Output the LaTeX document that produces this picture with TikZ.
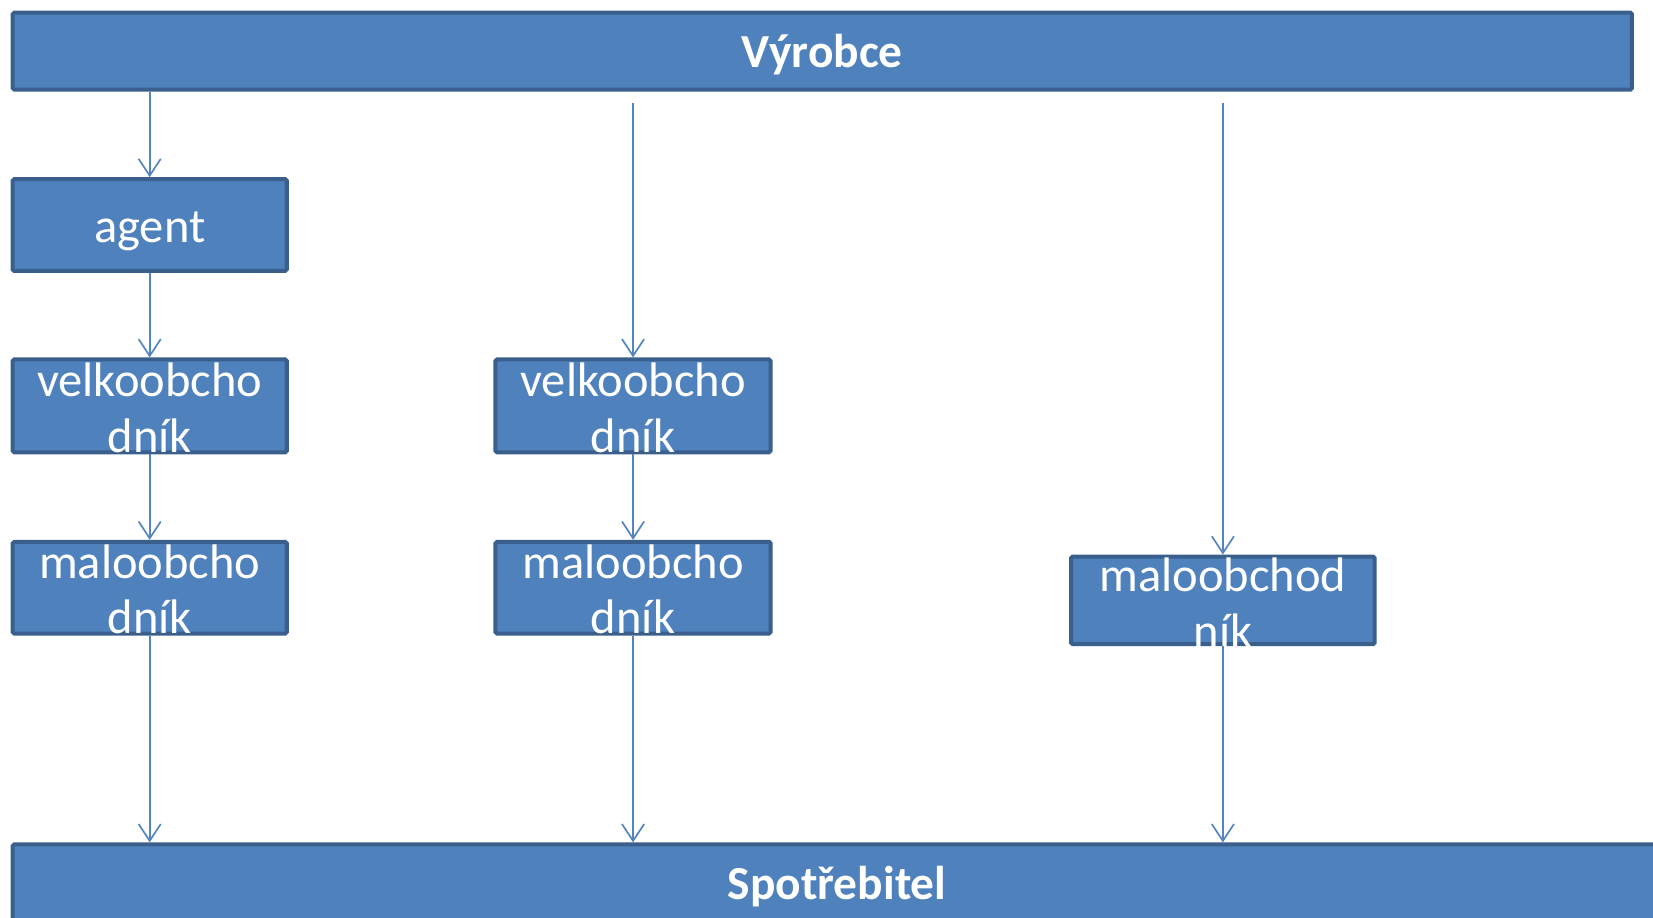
\documentclass[tikz,border=0pt]{standalone}
\usepackage{fontspec}
\setmainfont{Carlito}
\usetikzlibrary{arrows.meta}
\definecolor{boxfill}{HTML}{4F81BD}
\definecolor{boxline}{HTML}{3A5F8D}
\definecolor{arrowc}{HTML}{5585C0}
\tikzset{
  box/.style={draw=boxline, fill=boxfill, line width=3.8pt, rounded corners=1.5pt, inner sep=0pt},
  txt/.style={text=white, align=center, inner sep=0pt, font=\fontsize{46}{53}\selectfont},
  title/.style={text=white, inner sep=0pt, font=\fontsize{45}{52}\selectfont\bfseries},
  conn/.style={draw=arrowc, line width=1.6pt, -{Straight Barb[length=16pt,width=21pt,line width=1.6pt]}}
}
\begin{document}
\begin{tikzpicture}[x=1pt,y=-1pt]
\useasboundingbox (0,0) rectangle (1568,870);
\begin{scope}
\clip (0,0) rectangle (1568,870);
% top and bottom bars
\node[box, minimum width=1536, minimum height=73] (vyr) at (780,48.5) {};
\node[title] at (780,52) {Výrobce};
\node[box, minimum width=1640, minimum height=140] (spo) at (832,871) {};
\node[title] at (794,841) {Spotřebitel};
% column 1
\node[box, minimum width=260, minimum height=87] (ag) at (142,213.5) {};
\node[txt] at (142,219) {agent};
\node[box, minimum width=260, minimum height=88] (v1) at (142,385) {};
\node[txt] at (142,387) {velkoobcho\\dník};
\node[box, minimum width=260, minimum height=87] (m1) at (142,557.5) {};
\node[txt] at (142,559) {maloobcho\\dník};
% column 2
\node[box, minimum width=261, minimum height=88] (v2) at (600.5,385) {};
\node[txt] at (600.5,387) {velkoobcho\\dník};
\node[box, minimum width=261, minimum height=87] (m2) at (600.5,557.5) {};
\node[txt] at (600.5,559) {maloobcho\\dník};
% column 3
\node[box, minimum width=288, minimum height=83] (m3) at (1160,569.5) {};
\node[txt] at (1160,572) {maloobchod\\ník};
\end{scope}
% free start points
\coordinate (s2) at (600.5,98);
\coordinate (s3) at (1160,98);
% connectors
\draw[conn] (vyr.south -| ag.north) -- (ag.north);
\draw[conn] (ag.south) -- (v1.north);
\draw[conn] (v1.south) -- (m1.north);
\draw[conn] (m1.south) -- (m1.south |- spo.north);
\draw[conn] (s2) -- (v2.north);
\draw[conn] (v2.south) -- (m2.north);
\draw[conn] (m2.south) -- (m2.south |- spo.north);
\draw[conn] (s3) -- (m3.north);
\draw[conn] (m3.south) -- (m3.south |- spo.north);
\end{tikzpicture}
\end{document}
